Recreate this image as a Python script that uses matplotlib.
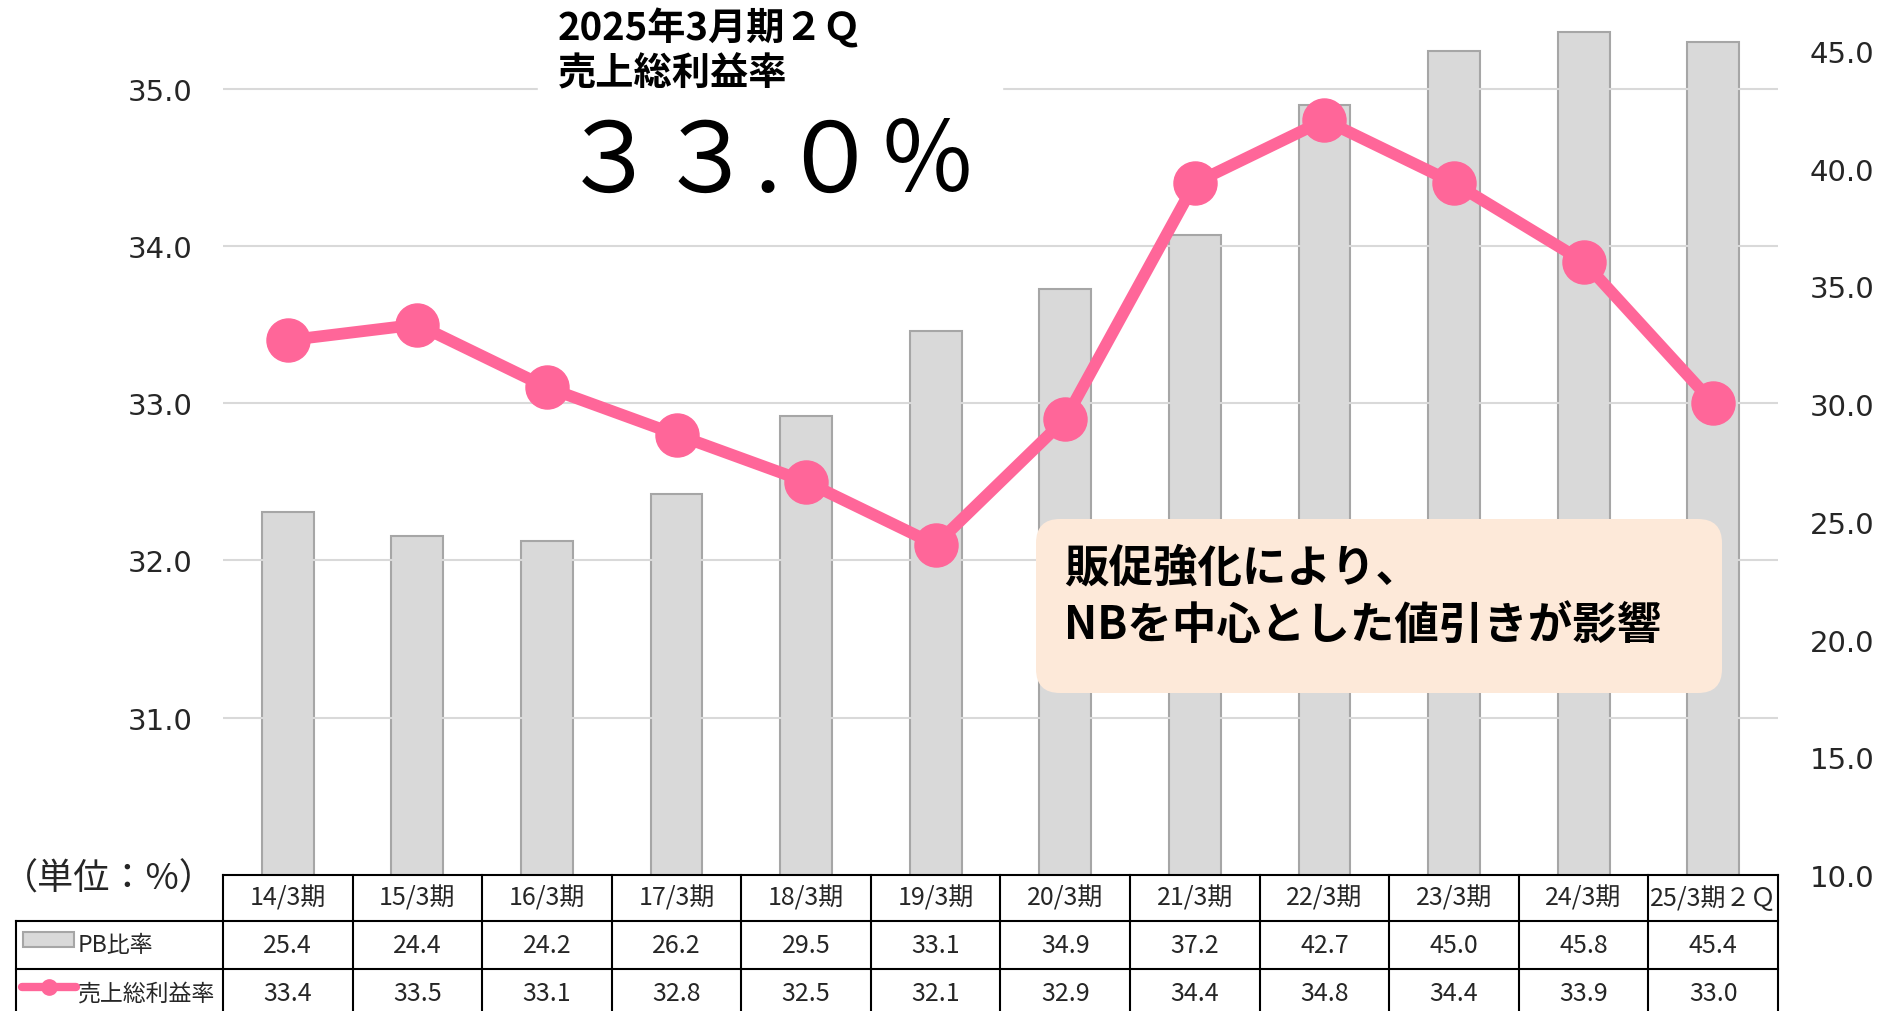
import matplotlib
matplotlib.use('Agg')
import matplotlib.pyplot as plt
from matplotlib.patches import FancyBboxPatch, Rectangle
from matplotlib import transforms

plt.rcParams['font.family'] = ['Noto Sans CJK JP', 'DejaVu Sans']

# data
periods = ['14/3期', '15/3期', '16/3期', '17/3期', '18/3期', '19/3期',
           '20/3期', '21/3期', '22/3期', '23/3期', '24/3期', '25/3期２Ｑ']
pb_ratio = [25.4, 24.4, 24.2, 26.2, 29.5, 33.1, 34.9, 37.2, 42.7, 45.0, 45.8, 45.4]
gross_margin = [33.4, 33.5, 33.1, 32.8, 32.5, 32.1, 32.9, 34.4, 34.8, 34.4, 33.9, 33.0]
left_ticks = [31, 32, 33, 34, 35]
right_ticks = [10, 15, 20, 25, 30, 35, 40, 45]

PINK = '#FF6699'
BAR = '#D9D9D9'
BAR_EDGE = '#A6A6A6'
GRID = '#D9D9D9'
TXT = '#262626'

W, H = 1882, 1012
fig = plt.figure(figsize=(W / 100, H / 100), dpi=100)

# plot area in pixels
px_l, px_r, px_b, px_t = 223, 1778, 876, 11
ax = fig.add_axes([px_l / W, 1 - px_b / H, (px_r - px_l) / W, (px_b - px_t) / H])
ax2 = ax.twinx()
ax.set_zorder(2)
ax.patch.set_visible(False)

x = list(range(len(periods)))

ax2.bar(x, pb_ratio, width=0.4, color=BAR, edgecolor=BAR_EDGE, linewidth=1.5)
ax.plot(x, gross_margin, color=PINK, lw=8.5, marker='o', ms=31,
        solid_capstyle='round', solid_joinstyle='round')

ax.set_xlim(-0.5, len(periods) - 0.5)
ax.set_ylim(30, 35.5)
ax2.set_ylim(10, 10 + (px_b - px_t) / ((876 - 52) / 35))

ax.set_yticks(left_ticks, labels=[f'{t:.1f}' for t in left_ticks])
ax2.set_yticks(right_ticks, labels=[f'{t:.1f}' for t in right_ticks])
ax.tick_params(axis='y', length=0, pad=22, labelsize=21, labelcolor=TXT,
               labelfontfamily='DejaVu Sans')
ax2.tick_params(axis='y', length=0, pad=23, labelsize=21, labelcolor=TXT,
                labelfontfamily='DejaVu Sans')
ax.set_xticks([])
ax2.set_xticks([])
ax.yaxis.grid(True, color=GRID, lw=1.5)
for a in (ax, ax2):
    for s in a.spines.values():
        s.set_visible(False)

# overlay in pixel coordinates
ov = fig.add_axes([0, 0, 1, 1])
ov.set_xlim(0, W)
ov.set_ylim(H, 0)
ov.set_autoscale_on(False)
ov.axis('off')
ov.set_zorder(5)

# title block
ov.add_patch(Rectangle((538, 0), 464, 200, color='white', zorder=1))
ov.text(558, 8, '2025年3月期２Ｑ', fontsize=27.5, fontweight='bold', va='top', zorder=2)
ov.text(558, 54, '売上総利益率', fontsize=27.5, fontweight='bold', va='top', zorder=2)
ov.text(769, 192, '３３.０％', fontsize=70, ha='center', va='baseline', zorder=2)

# comment box
ov.add_patch(FancyBboxPatch((1036, 520), 686, 174,
                            boxstyle='round,pad=0,rounding_size=24',
                            fc='#FDE9D9', ec='none', zorder=1))
ov.text(1064, 569, '販促強化により、', fontsize=32, fontweight='bold', va='center', zorder=2)
ov.text(1064, 626, 'NBを中心とした値引きが影響', fontsize=32, fontweight='bold',
        va='center', zorder=2)

# data table below the plot
trans = transforms.blended_transform_factory(ax.transData, ov.transData)
lab_left = ax.transData.inverted().transform((16, 0))[0]
rows = [876, 922, 970, 1018]
n = len(periods)
lk = dict(color='black', lw=1.5, transform=trans, clip_on=False, zorder=3)
for k in range(n + 1):
    ov.plot([k - 0.5, k - 0.5], [rows[0], rows[3]], **lk)
ov.plot([lab_left, lab_left], [rows[1], rows[3]], **lk)
ov.plot([-0.5, n - 0.5], [rows[0], rows[0]], **lk)
for r in rows[1:3]:
    ov.plot([lab_left, n - 0.5], [r, r], **lk)

for i in x:
    ov.text(i, 899, periods[i], transform=trans, ha='center', va='center',
            fontsize=18, color=TXT)
    ov.text(i, 946, f'{pb_ratio[i]:.1f}', transform=trans, ha='center', va='center',
            fontsize=18, color=TXT)
    ov.text(i, 994, f'{gross_margin[i]:.1f}', transform=trans, ha='center', va='center',
            fontsize=18, color=TXT)

# row labels with legend keys
ov.add_patch(Rectangle((23, 933), 51, 15, fc=BAR, ec=BAR_EDGE, lw=1.5, zorder=3))
ov.text(78, 946, 'PB比率', fontsize=16.5, va='center', color=TXT)
ov.plot([22, 76], [988, 988], color=PINK, lw=6, solid_capstyle='round', zorder=3)
ov.plot([49], [988], marker='o', ms=11, color=PINK, zorder=3)
ov.text(78, 994, '売上総利益率', fontsize=16.5, va='center', color=TXT)

ov.text(2, 880, '（単位：%）', fontsize=26, va='center', color=TXT)

fig.savefig('out.png', dpi=100)
